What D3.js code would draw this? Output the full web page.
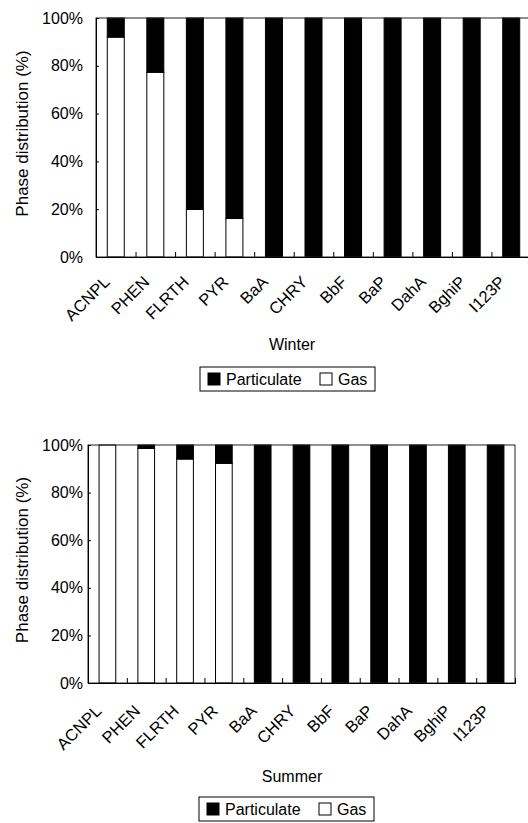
<!DOCTYPE html>
<html>
<head>
<meta charset="utf-8">
<script src="https://cdn.jsdelivr.net/npm/d3@7"></script>
<style>
  body { margin: 0; background: #fff; }
  svg { display: block; font-family: 'Liberation Sans', Arial, sans-serif; }
</style>
</head>
<body>
<div id="vis"></div>
<script>
// PAH compounds on the x axis
const compounds = ['ACNPL', 'PHEN', 'FLRTH', 'PYR', 'BaA', 'CHRY', 'BbF', 'BaP', 'DahA', 'BghiP', 'I123P'];

// phase distribution (%)
const winterGas = [92.0, 77.3, 19.9, 16.1, 0, 0, 0, 0, 0, 0, 0];
const winterParticulate = [8.0, 22.7, 80.1, 83.9, 100, 100, 100, 100, 100, 100, 100];
const summerGas = [100, 98.6, 94.1, 92.3, 0, 0, 0, 0, 0, 0, 0];
const summerParticulate = [0, 1.4, 5.9, 7.7, 100, 100, 100, 100, 100, 100, 100];

const yTicks = [0, 20, 40, 60, 80, 100];
const phases = ['Gas', 'Particulate'];       // stacking order, bottom to top
const legendItems = ['Particulate', 'Gas'];

const width = 528;
const height = 823;
const font = 16;

const fill = d3.scaleOrdinal()
    .domain(phases)
    .range(['#fff', '#000']);

const svg = d3.select('#vis')
    .append('svg')
    .attr('width', width)
    .attr('height', height);

const panels = [
    { title: 'Winter', gas: winterGas, part: winterParticulate,
      left: 96, right: 531, top: 18, bottom: 257, pad: 13, labelDy: 26, titleY: 350, legendX: 200, legendY: 367 },
    { title: 'Summer', gas: summerGas, part: summerParticulate,
      left: 88, right: 515, top: 445, bottom: 683, pad: 5, labelDy: 29, titleY: 782, legendX: 199, legendY: 797 }
];

panels.forEach(p => drawPanel(p));

function drawPanel(p) {
    const rows = compounds.map((c, i) => ({ compound: c, Gas: p.gas[i], Particulate: p.part[i] }));
    const series = d3.stack().keys(phases)(rows);

    const x = d3.scaleBand()
        .domain(compounds)
        .range([p.left, p.right])
        .paddingInner(0.57)
        .paddingOuter(0.285);

    // category boundaries, for the inside tick marks
    const xEdge = d3.scaleLinear()
        .domain([0, compounds.length])
        .range([p.left, p.right]);

    const y = d3.scaleLinear()
        .domain([0, 100])
        .range([p.bottom, p.top]);

    const g = svg.append('g');

    g.append('g')
        .selectAll('g')
        .data(series)
        .join('g')
        .attr('fill', d => fill(d.key))
        .selectAll('rect')
        .data(d => d.filter(s => s[1] - s[0] > 0))
        .join('rect')
        .attr('x', d => x(d.data.compound))
        .attr('width', x.bandwidth())
        .attr('y', d => y(d[1]))
        .attr('height', d => y(d[0]) - y(d[1]))
        .attr('stroke', '#000')
        .attr('stroke-width', 1);

    // plot frame
    g.append('rect')
        .attr('x', p.left)
        .attr('y', p.top)
        .attr('width', p.right - p.left)
        .attr('height', p.bottom - p.top)
        .attr('fill', 'none')
        .attr('stroke', '#222')
        .attr('stroke-width', 1);

    const yAxis = g.append('g')
        .attr('transform', `translate(${p.left},0)`)
        .call(d3.axisLeft(y).tickValues(yTicks).tickSize(-3).tickPadding(p.pad).tickFormat(d => d + '%'));
    yAxis.select('.domain').attr('stroke', '#000');
    yAxis.selectAll('text')
        .attr('font-size', font)
        .attr('font-family', 'Liberation Sans, Arial')
        .attr('fill', '#000');

    g.append('g')
        .attr('transform', `translate(0,${p.bottom})`)
        .call(d3.axisBottom(xEdge).tickValues(d3.range(1, compounds.length)).tickSize(-5).tickFormat(''))
        .call(a => a.select('.domain').attr('stroke', '#000'));

    // rotated compound labels
    g.append('g')
        .selectAll('text')
        .data(compounds)
        .join('text')
        .attr('transform', d => `translate(${x(d) + x.bandwidth() / 2 - 5},${p.bottom + p.labelDy}) rotate(-45)`)
        .attr('text-anchor', 'end')
        .attr('font-size', 16.5)
        .text(d => d);

    g.append('text')
        .attr('transform', `translate(28,${(p.top + p.bottom) / 2 - 4}) rotate(-90)`)
        .attr('text-anchor', 'middle')
        .attr('font-size', 17)
        .text('Phase distribution (%)');

    g.append('text')
        .attr('x', 292)
        .attr('y', p.titleY)
        .attr('text-anchor', 'middle')
        .attr('font-size', font)
        .text(p.title);

    legend(g.append('g').attr('transform', `translate(${p.legendX},${p.legendY})`));
}

function legend(container) {
    container.append('rect')
        .attr('width', 175)
        .attr('height', 24)
        .attr('fill', '#fff')
        .attr('stroke', '#000');

    const offsets = [8, 120];
    const entries = container.selectAll('g')
        .data(legendItems)
        .join('g')
        .attr('transform', (d, i) => `translate(${offsets[i]},6)`);

    entries.append('rect')
        .attr('width', 12)
        .attr('height', 12)
        .attr('fill', d => fill(d))
        .attr('stroke', '#000');

    entries.append('text')
        .attr('x', 18)
        .attr('y', 12)
        .attr('font-size', font)
        .text(d => d);
}
</script>
</body>
</html>
